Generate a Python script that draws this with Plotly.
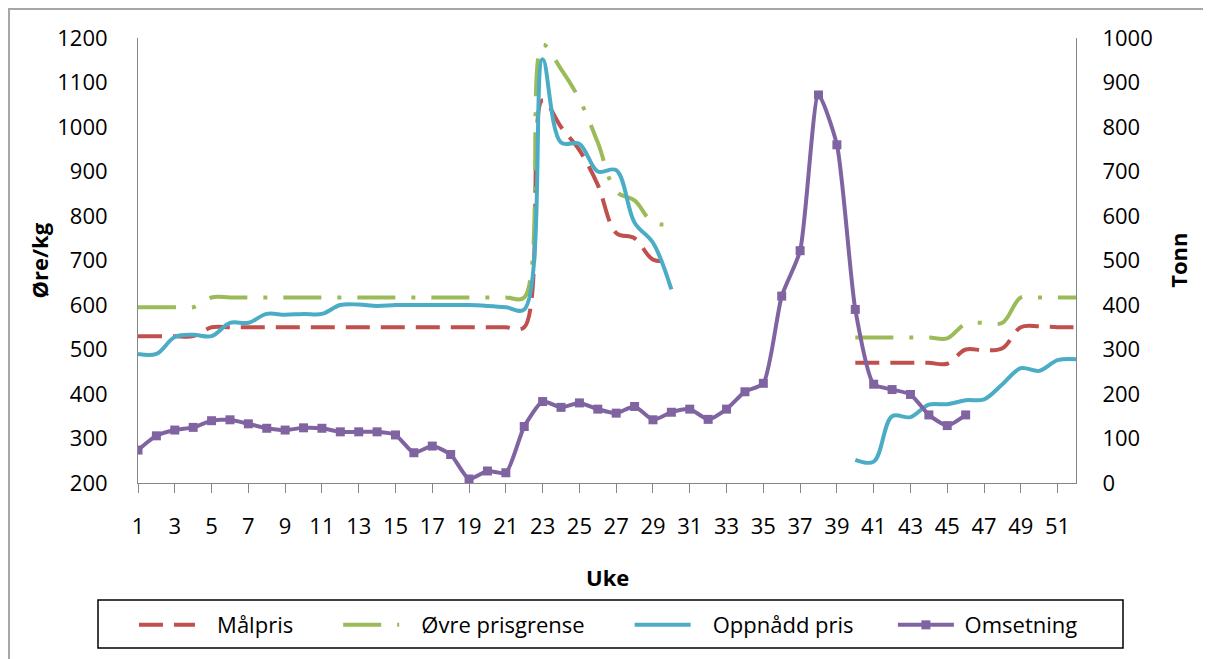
import plotly.graph_objects as go

weeks = list(range(1, 53))

malpris = (
    [530] * 4 + [550] * 18
    + [1060, 1000, 948, 870, 762, 750, 702, 700]
    + [None] * 9
    + [470, 470, 470, 470, 470, 468, 500, 498, 503, 550, 552, 550, 550]
)

ovre_prisgrense = (
    [595] * 4 + [617] * 18
    + [1185, 1130, 1062, 965, 855, 835, 785, 782]
    + [None] * 9
    + [527, 527, 527, 527, 527, 525, 558, 560, 560, 617, 617, 617, 617]
)

oppnadd_pris = (
    [490, 490, 528, 533, 530, 560, 560, 580, 578, 580, 580, 600, 601, 598,
     600, 600, 600, 600, 600, 598, 595, 590,
     1152, 965, 962, 900, 903, 785, 740, 635]
    + [None] * 9
    + [252, 248, 350, 348, 376, 377, 386, 388, 422, 458, 452, 476, 478]
)

omsetning = (
    [74, 106, 119, 125, 140, 142, 133, 123, 119, 124, 123, 115, 115, 115,
     108, 68, 83, 64, 9, 27, 23, 127, 183, 170, 180, 166, 157, 172, 142,
     159, 166, 143, 166, 205, 224, 420, 522, 872, 760, 390, 222, 210, 199,
     153, 129, 153]
    + [None] * 6
)

font = "'Open Sans', Lato, sans-serif"
axis_grey = "#868686"
sp = "\u00a0"

fig = go.Figure()

fig.add_trace(go.Scatter(
    x=weeks, y=malpris, name=sp * 3 + "Målpris" + sp * 7, mode="lines",
    line=dict(color="#C0504D", width=4, dash="24px,11px", shape="spline", smoothing=1),
))
fig.add_trace(go.Scatter(
    x=weeks, y=ovre_prisgrense, name=sp * 3 + "Øvre prisgrense" + sp * 7, mode="lines",
    line=dict(color="#9BBB59", width=4, dash="38px,16px,4px,16px", shape="spline", smoothing=1),
))
fig.add_trace(go.Scatter(
    x=weeks, y=oppnadd_pris, name=sp * 3 + "Oppnådd pris" + sp * 6, mode="lines",
    line=dict(color="#4BACC6", width=4, shape="spline", smoothing=1),
))
fig.add_trace(go.Scatter(
    x=weeks, y=omsetning, name=sp + "Omsetning", mode="lines+markers", yaxis="y2",
    line=dict(color="#8064A2", width=4, shape="spline", smoothing=0.6),
    marker=dict(symbol="square", size=9, color="#8064A2"),
))

fig.update_layout(
    width=1203, height=651,
    margin=dict(l=130, r=135, t=30, b=176),
    paper_bgcolor="white", plot_bgcolor="white",
    font=dict(family=font, size=22, color="black"),
    xaxis=dict(
        range=[1, 52], tick0=1, dtick=2, showgrid=False, zeroline=False,
        showline=True, linecolor=axis_grey, linewidth=1,
        ticks="outside", ticklen=9, tickcolor=axis_grey,
        ticklabelstandoff=15,
    ),
    yaxis=dict(
        range=[200, 1200], dtick=100, showgrid=False, zeroline=False,
        showline=True, linecolor=axis_grey, linewidth=1,
        ticklabelstandoff=25,
    ),
    yaxis2=dict(
        range=[0, 1000], dtick=100, overlaying="y", side="right",
        showgrid=False, zeroline=False,
        showline=True, linecolor=axis_grey, linewidth=1,
        ticklabelstandoff=21,
    ),
    legend=dict(
        orientation="h", x=-0.0043, xanchor="left", y=-0.272, yanchor="top",
        borderwidth=0, bgcolor="rgba(0,0,0,0)", font=dict(size=22),
        itemwidth=56,
    ),
    annotations=[
        dict(text="<b>Øre/kg</b>", xref="paper", yref="paper", x=-0.1065, y=0.5,
             xanchor="center", yanchor="middle",
             textangle=-90, showarrow=False, font=dict(size=22)),
        dict(text="<b>Tonn</b>", xref="paper", yref="paper", x=1.108, y=0.5,
             xanchor="center", yanchor="middle",
             textangle=-90, showarrow=False, font=dict(size=22)),
        dict(text="<b>Uke</b>", xref="paper", yref="paper", x=0.5, y=-0.211,
             xanchor="center", yanchor="middle",
             showarrow=False, font=dict(size=22)),
    ],
    shapes=[
        dict(type="rect", xref="paper", yref="paper",
             x0=-0.1375, x1=1.16, y0=-0.42, y1=1.0652,
             line=dict(color="#A6A6A6", width=2), layer="below"),
        dict(type="rect", xref="paper", yref="paper",
             x0=(98 - 138) / 938, x1=(1123 - 138) / 938,
             y0=-(648 - 483) / 445, y1=-(600 - 483) / 445,
             line=dict(color="black", width=1.5), layer="below"),
    ],
)

fig.write_html("out.html")
